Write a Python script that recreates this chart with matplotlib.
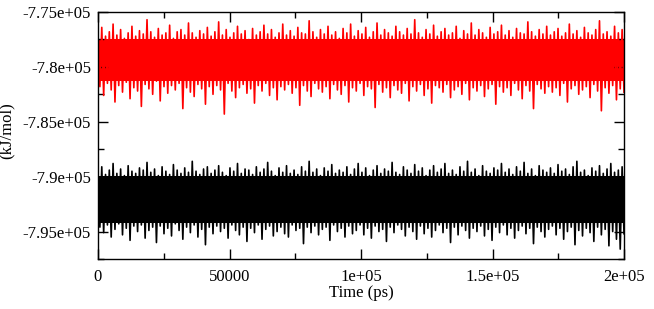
import numpy as np
import matplotlib
matplotlib.use('Agg')
import matplotlib.pyplot as plt
from matplotlib.ticker import FixedLocator, MultipleLocator

# time span of the run (ps)
t_start = 0
t_end = 200000

# dense core of each trace (kJ/mol): where the line fills solid
red_core = [-777500, -781300]
black_core = [-789900, -794200]

red_hi = [
    -777000, -776400, -777200, -776800, -776100, -777100, -776600, -777400, -776900, -776300,
    -777200, -776700, -777000, -775700, -776800, -777300, -776500, -777100, -776900, -776200,
    -777400, -776800, -776600, -777100, -776000, -776900, -777300, -776700, -777000, -776400,
    -777200, -776800, -775900, -777100, -776600, -777300, -776900, -776300, -777000, -776700,
    -777500, -776500, -777100, -776800, -776200, -777000, -776600, -777300, -776900, -776100,
    -777100, -776700, -777200, -776400, -776900, -777000, -775800, -776800, -777300, -776600,
    -777000, -776300, -777100, -776800, -777400, -776500, -776900, -776100, -777200, -776700,
    -777000, -776400, -777300, -776800, -776000, -777100, -776600, -776900, -777200, -776300,
    -776800, -777100, -776500, -777000, -775700, -776900, -777300, -776600, -777000, -776200,
    -777200, -776800, -776500, -777100, -776900, -776300, -777400, -776700, -777000, -776000,
    -777100, -776600, -776900, -777300, -776400, -777000, -776800, -776200, -777100, -776700,
    -777300, -776500, -776900, -777000, -775900, -776800, -777200, -776600, -777000, -776300,
    -777100, -776800, -776500, -777200, -776900, -776100, -777000, -776700, -777300, -776400,
    -776900, -777100, -776600, -775800, -777000, -776800, -777200, -776300, -776900, -776600,
]
red_lo = [
    -781800, -782600, -781500, -782100, -783200, -781700, -782300, -781400, -782900, -781900,
    -782200, -783600, -781600, -782000, -782500, -781300, -783100, -781800, -782400, -781700,
    -782100, -781500, -783800, -781900, -782300, -782700, -781600, -782000, -783400, -781800,
    -782500, -781700, -782100, -784300, -781500, -782200, -782800, -781900, -781600, -782400,
    -782000, -783300, -781700, -782200, -781500, -782600, -781900, -783000, -781800, -782100,
    -781600, -782400, -781900, -783500, -781700, -782200, -782700, -781500, -782000, -782300,
    -781800, -782900, -781600, -782100, -782500, -781700, -783200, -781900, -782200, -781500,
    -782600, -781800, -782000, -783700, -781600, -782300, -781900, -782800, -781700, -782100,
    -782400, -781500, -783100, -781800, -782200, -781600, -782600, -782000, -783300, -781700,
    -781900, -782300, -781600, -782800, -782100, -781800, -782500, -781500, -783000, -781900,
    -782200, -781700, -782700, -782000, -781600, -783400, -781800, -782300, -781900, -782600,
    -781500, -782100, -782900, -781700, -782200, -783800, -781600, -782000, -782400, -781800,
    -782300, -781900, -782600, -781500, -783200, -782000, -781700, -782500, -782100, -781800,
    -782800, -781600, -782200, -784000, -781900, -782400, -781700, -783000, -782000, -782300,
]
black_hi = [
    -789600, -789100, -789800, -789400, -788800, -789700, -789300, -789900, -789000, -789500,
    -789700, -789200, -789400, -788700, -789600, -789300, -789900, -789100, -789500, -789800,
    -788900, -789400, -789700, -789200, -789600, -788600, -789500, -789800, -789300, -789100,
    -789700, -789400, -789000, -789600, -789900, -789200, -789500, -788800, -789700, -789300,
    -789400, -789800, -789100, -789600, -789300, -788700, -789500, -789900, -789200, -789600,
    -789000, -789700, -789400, -789800, -789100, -789500, -788600, -789600, -789300, -789900,
    -789200, -789500, -788900, -789700, -789400, -789600, -789100, -789800, -789300, -788800,
    -789600, -789200, -789900, -789400, -789000, -789700, -789300, -789500, -788700, -789600,
    -789800, -789100, -789400, -789700, -788900, -789500, -789200, -789900, -789400, -789000,
    -789600, -789300, -788800, -789700, -789400, -789800, -789100, -789500, -788600, -789600,
    -789300, -789900, -789000, -789500, -789700, -789200, -789400, -788800, -789600, -789300,
    -789800, -789100, -789500, -788700, -789700, -789300, -789900, -789000, -789400, -789600,
    -789200, -789700, -788900, -789500, -789300, -789800, -789100, -788600, -789600, -789400,
    -789900, -789200, -789500, -789000, -789700, -789300, -788800, -789600, -789400, -789100,
]
black_lo = [
    -794600, -795100, -794400, -795500, -794800, -794300, -795300, -794700, -795800, -794500,
    -795000, -794400, -795600, -794900, -794600, -796000, -794500, -795200, -794700, -795400,
    -794300, -794900, -795700, -794600, -795100, -794400, -795500, -794800, -796200, -794600,
    -795200, -794500, -795000, -794700, -795600, -794400, -794900, -795300, -794600, -795900,
    -794700, -795100, -794400, -795700, -794800, -794500, -795400, -795000, -794600, -795200,
    -795500, -794400, -794900, -794700, -796100, -794600, -795100, -794500, -795300, -794800,
    -794600, -795800, -794400, -795000, -794700, -795500, -794500, -795200, -794900, -794400,
    -795300, -794700, -795600, -794500, -795000, -794800, -795900, -794600, -795100, -794400,
    -794800, -795400, -794600, -795000, -795700, -794500, -795200, -794700, -795500, -794900,
    -794400, -795100, -794700, -796000, -794600, -795300, -794500, -794900, -795600, -794700,
    -795000, -794500, -795400, -794800, -795800, -794600, -795100, -794400, -795300, -794700,
    -795600, -794900, -794500, -795200, -794700, -796100, -794600, -795000, -795500, -794800,
    -794500, -795300, -794700, -795700, -795000, -794600, -796200, -794900, -795400, -794700,
    -795100, -795900, -794600, -795300, -794800, -796300, -795000, -795700, -796600, -795200,
]

xticks = [0, 50000, 100000, 150000, 200000]
xtick_labels = ['0', '50000', '1e+05', '1.5e+05', '2e+05']
yticks = [-775000, -780000, -785000, -790000, -795000]
ytick_labels = ['-7.75e+05', '-7.8e+05', '-7.85e+05', '-7.9e+05', '-7.95e+05']


def trace(hi, lo):
    # alternate peak, trough, peak, trough ...
    y = np.empty(2 * len(hi))
    y[0::2] = hi
    y[1::2] = lo
    t = np.linspace(t_start, t_end, len(y))
    return t, y


plt.rcParams['font.family'] = ['Liberation Serif', 'DejaVu Serif']
plt.rcParams['font.size'] = 12

fig = plt.figure(figsize=(6.54, 3.09), dpi=100)
ax = fig.add_axes([98 / 654, 50 / 309, 526 / 654, 247 / 309])

for hi, lo, core, col in [(red_hi, red_lo, red_core, 'red'),
                          (black_hi, black_lo, black_core, 'black')]:
    t, y = trace(hi, lo)
    ax.fill_between([t_start, t_end], core[0], core[1], color=col, lw=0)
    ax.plot(t, y, color=col, lw=1.2)

ax.set_xlim(0, 200000)
ax.set_ylim(-797500, -775000)

ax.xaxis.set_major_locator(FixedLocator(xticks))
ax.set_xticklabels(xtick_labels)
ax.xaxis.set_minor_locator(MultipleLocator(25000))
ax.yaxis.set_major_locator(FixedLocator(yticks))
ax.set_yticklabels(ytick_labels)
ax.yaxis.set_minor_locator(MultipleLocator(2500))

ax.tick_params(which='both', direction='in', top=True, right=True, width=1)
ax.tick_params(which='major', length=7, pad=5)
ax.tick_params(which='minor', length=4)
ax.tick_params(axis='x', which='major', pad=7)
for s in ax.spines.values():
    s.set_linewidth(1)

ax.set_xlabel('Time (ps)', labelpad=0)
ax.set_ylabel('(kJ/mol)')
ax.yaxis.set_label_coords(-0.158, 0.52)

plt.savefig('out.png', dpi=100)
